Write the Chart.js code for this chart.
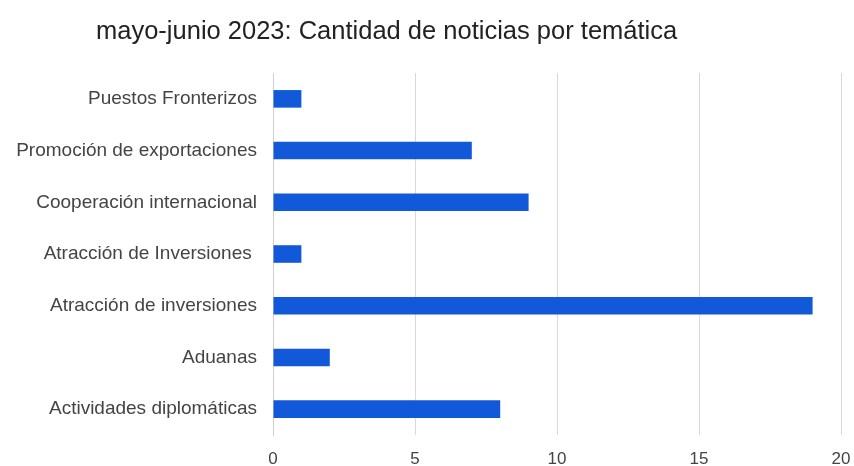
<!DOCTYPE html>
<html>
<head>
<meta charset="utf-8">
<script src="https://cdn.jsdelivr.net/npm/chart.js@4"></script>
<style>
html,body{margin:0;padding:0;background:#fff;}
#wrap{width:854px;height:466px;}
</style>
</head>
<body>
<div id="wrap"><canvas id="barras" width="854" height="466"></canvas></div>
<script>
const titulo = 'mayo-junio 2023: Cantidad de noticias por temática';
const tematicas = ['Puestos Fronterizos','Promoción de exportaciones','Cooperación internacional','Atracción de Inversiones ','Atracción de inversiones','Aduanas','Actividades diplomáticas'];
const noticias = [1,7,9,1,19,2,8];
const ejeMin = 0;
const ejeMax = 20;
const paso = 5;

// titulo alineado a la izquierda como en la hoja original
const tituloPlugin = {
  id:'tituloIzq',
  afterDraw(chart){
    const ctx = chart.ctx;
    ctx.save();
    ctx.font = '25.5px "Liberation Sans", Arial, sans-serif';
    ctx.fillStyle = '#222';
    ctx.textBaseline = 'alphabetic';
    ctx.textAlign = 'left';
    ctx.fillText(titulo, 96, 39);
    ctx.restore();
  }
};

const barras = document.getElementById('barras');
let grafico = new Chart(barras,{
  type:'bar',
  data:{
    labels:tematicas,
    datasets:[{
      label:'Noticias',
      data:noticias,
      backgroundColor:'#1159d8',
      borderWidth:0,
      barPercentage:0.34,
      categoryPercentage:1
    }]
  },
  options:{
    indexAxis:'y',
    responsive:false,
    animation:false,
    layout:{padding:{top:73,right:13,left:0,bottom:0}},
    plugins:{
      legend:{display:false},
      tooltip:{enabled:false}
    },
    scales:{
      x:{
        min:ejeMin,
        max:ejeMax,
        ticks:{stepSize:paso,color:'#444',padding:14,font:{family:'"Liberation Sans", Arial, sans-serif',size:17}},
        grid:{color:'#d9d9d9',drawTicks:false},
        border:{display:false},
        afterFit(s){ s.height = 31; s.paddingRight = 0; s.paddingLeft = 0; }
      },
      y:{
        ticks:{color:'#444',padding:16,font:{family:'"Liberation Sans", Arial, sans-serif',size:19}},
        grid:{display:false,drawTicks:false},
        border:{display:true,color:'#d0d0d0',width:1},
        afterFit(s){ s.width = 273; }
      }
    }
  },
  plugins:[tituloPlugin]
});
</script>
</body>
</html>
